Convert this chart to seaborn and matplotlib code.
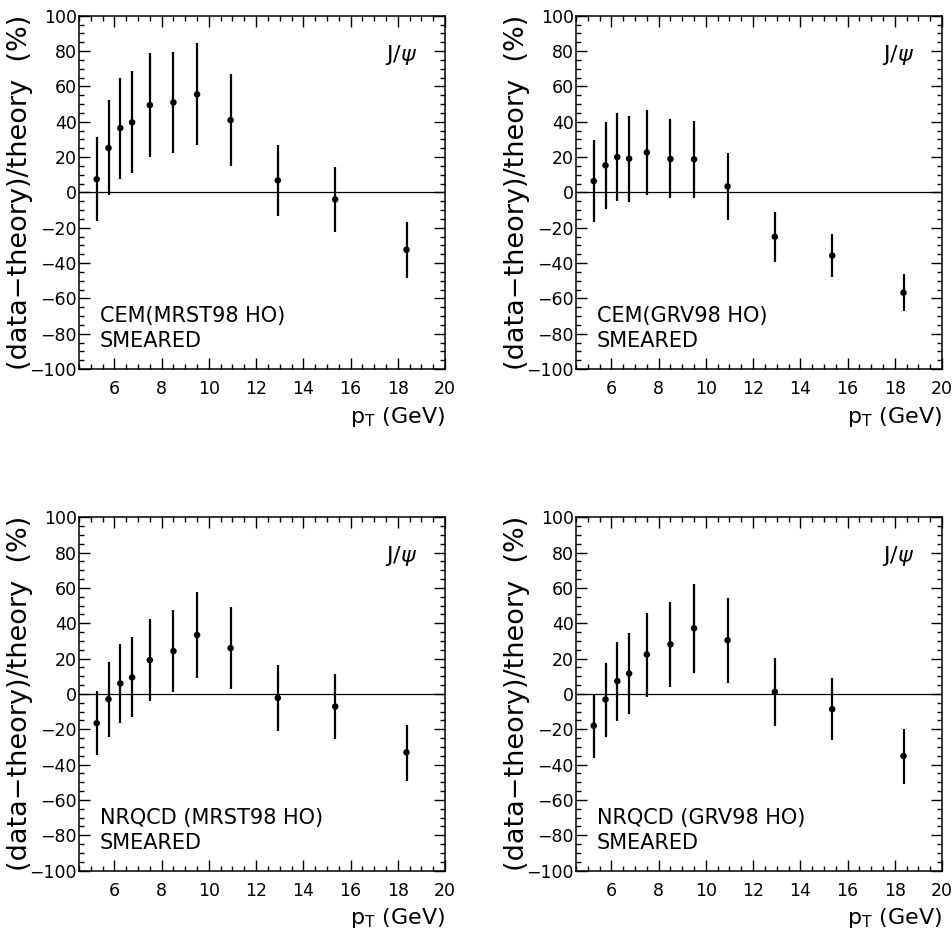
"""
Four panels of (data-theory)/theory for J/psi versus pT,
CEM and NRQCD predictions with MRST98 / GRV98 HO PDFs.
"""

import pandas as pd
import seaborn as sns
import matplotlib.pyplot as plt
from matplotlib.ticker import MultipleLocator

# pT bin centres (GeV), shared by all panels
pt_bins = [5.25, 5.75, 6.25, 6.75, 7.5, 8.5, 9.5, 10.92, 12.92, 15.35, 18.37]

# panel labels
model_labels = ["CEM(MRST98 HO)", "CEM(GRV98 HO)",
                "NRQCD (MRST98 HO)", "NRQCD (GRV98 HO)"]

# central values and error bar ends, in %
cem_mrst = [7.4, 25.1, 36.4, 39.6, 49.4, 50.9, 55.5, 40.9, 6.8, -4.0, -32.5]
cem_mrst_lo = [-16.0, -1.5, 7.7, 10.9, 20.2, 22.5, 27.0, 15.1, -13.6, -22.6, -48.5]
cem_mrst_hi = [31.1, 52.3, 64.7, 68.5, 78.9, 79.2, 84.3, 67.0, 27.0, 14.5, -16.6]

cem_grv = [6.4, 15.3, 20.0, 19.1, 22.6, 18.9, 18.7, 3.4, -25.1, -35.8, -56.8]
cem_grv_lo = [-16.6, -9.4, -4.9, -5.3, -1.5, -3.4, -3.0, -15.7, -39.2, -48.1, -67.0]
cem_grv_hi = [29.6, 39.8, 45.1, 43.4, 46.6, 41.3, 40.6, 22.5, -11.1, -23.6, -46.4]

nrqcd_mrst = [-16.6, -3.0, 5.9, 9.3, 19.1, 24.2, 33.3, 25.9, -2.3, -7.2, -33.1]
nrqcd_mrst_lo = [-34.8, -24.4, -16.3, -13.2, -4.3, 0.9, 8.9, 2.5, -20.8, -25.3, -49.1]
nrqcd_mrst_hi = [1.5, 17.8, 28.0, 31.9, 42.3, 47.4, 57.7, 49.0, 16.3, 11.0, -17.4]

nrqcd_grv = [-18.0, -3.2, 7.2, 11.5, 22.3, 28.0, 37.1, 30.4, 1.1, -8.7, -35.2]
nrqcd_grv_lo = [-36.1, -24.2, -15.1, -11.3, -1.7, 3.6, 11.9, 6.2, -18.1, -26.3, -50.9]
nrqcd_grv_hi = [0.0, 17.6, 29.3, 34.2, 45.9, 51.8, 62.0, 54.3, 20.2, 8.7, -20.0]

panel_values = [cem_mrst, cem_grv, nrqcd_mrst, nrqcd_grv]
panel_lo = [cem_mrst_lo, cem_grv_lo, nrqcd_mrst_lo, nrqcd_grv_lo]
panel_hi = [cem_mrst_hi, cem_grv_hi, nrqcd_mrst_hi, nrqcd_grv_hi]

sns.set_theme(style="ticks")
plt.rcParams['font.family'] = ['DejaVu Sans']
plt.rcParams['axes.linewidth'] = 1.1
plt.rcParams['text.color'] = 'black'
plt.rcParams['axes.labelcolor'] = 'black'
plt.rcParams['xtick.color'] = 'black'
plt.rcParams['ytick.color'] = 'black'
plt.rcParams['axes.edgecolor'] = 'black'

fig = plt.figure(figsize=(9.53, 9.31), dpi=100)

# axes rectangles in figure fractions
W, H = 953.0, 931.0
ax_w, ax_h = 366 / W, 353.3 / H
lefts = [79 / W, 576 / W]
bottoms = [1 - 369 / H, 1 - 870.5 / H]

for i in range(4):
    row, col = divmod(i, 2)
    ax = fig.add_axes([lefts[col], bottoms[row], ax_w, ax_h])

    df = pd.DataFrame({
        'pt': pt_bins,
        'val': panel_values[i],
        'lo': panel_lo[i],
        'hi': panel_hi[i],
    })

    # zero line
    ax.axhline(0, color='black', lw=0.9, zorder=1)

    # error bars (asymmetric)
    ax.vlines(df['pt'], df['lo'], df['hi'], color='black', lw=1.6, zorder=2)
    sns.scatterplot(data=df, x='pt', y='val', ax=ax, color='black',
                    s=22, edgecolor='none', zorder=3, legend=False)

    ax.set_xlim(4.5, 20)
    ax.set_ylim(-100, 100)
    ax.xaxis.set_major_locator(MultipleLocator(2))
    ax.xaxis.set_minor_locator(MultipleLocator(0.5))
    ax.yaxis.set_major_locator(MultipleLocator(20))
    ax.yaxis.set_minor_locator(MultipleLocator(5))
    ax.tick_params(which='both', direction='in', top=True, right=True,
                   color='black', width=1.0)
    ax.tick_params(which='major', length=8)
    ax.tick_params(which='minor', length=3.8)
    ax.tick_params(axis='x', which='major', pad=8, labelsize=12.5)
    ax.tick_params(axis='y', which='major', pad=1.5, labelsize=12.5)

    ax.set_xlabel('')
    ax.set_ylabel('(data\u2212theory)/theory  (%)', fontsize=19.5)
    ax.yaxis.set_label_coords(-0.125, 0.5)

    ax.text(1.0, -0.135, r'p$_{\mathrm{T}}$ (GeV)', transform=ax.transAxes,
            ha='right', va='center', fontsize=16)
    ax.text(0.925, 0.89, r'J/$\psi$', transform=ax.transAxes,
            ha='right', va='center', fontsize=16)
    ax.text(0.057, 0.133, model_labels[i], transform=ax.transAxes,
            ha='left', va='baseline', fontsize=15)
    ax.text(0.057, 0.062, 'SMEARED', transform=ax.transAxes,
            ha='left', va='baseline', fontsize=15)

fig.savefig('out.png', dpi=100)
